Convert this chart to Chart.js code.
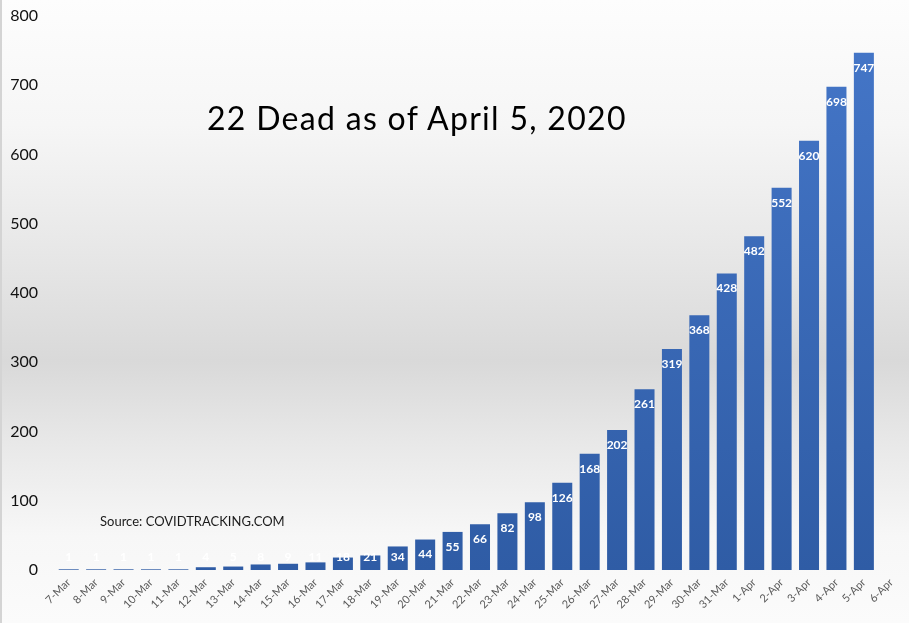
<!DOCTYPE html>
<html>
<head>
<meta charset="utf-8">
<script src="https://cdn.jsdelivr.net/npm/chart.js@4.4.1/dist/chart.umd.min.js"></script>
<style>
    html, body { margin: 0; padding: 0; background: #fff; }
    #wrap { position: relative; width: 909px; height: 623px; }
    #deaths { display: block; }
    .note { position: absolute; white-space: nowrap; color: #000; font-family: Lato, 'Open Sans', sans-serif; }
    #headline { left: 207px; top: 98px; font-size: 32px; line-height: 40px; letter-spacing: 1.3px; }
    #source { left: 100px; top: 512px; font-size: 13px; line-height: 18px; color: #1a1a1a; }
</style>
</head>
<body>
<div id="wrap">
    <canvas id="deaths" width="909" height="623"></canvas>
    <div class="note" id="headline">22 Dead as of April 5, 2020</div>
    <div class="note" id="source">Source: COVIDTRACKING.COM</div>
</div>
<script>
const days = ['7-Mar', '8-Mar', '9-Mar', '10-Mar', '11-Mar', '12-Mar', '13-Mar', '14-Mar', '15-Mar', '16-Mar',
    '17-Mar', '18-Mar', '19-Mar', '20-Mar', '21-Mar', '22-Mar', '23-Mar', '24-Mar', '25-Mar', '26-Mar',
    '27-Mar', '28-Mar', '29-Mar', '30-Mar', '31-Mar', '1-Apr', '2-Apr', '3-Apr', '4-Apr', '5-Apr', '6-Apr'];
const deaths = [1, 1, 1, 1, 1, 4, 5, 8, 9, 11,
    18, 21, 34, 44, 55, 66, 82, 98, 126, 168,
    202, 261, 319, 368, 428, 482, 552, 620, 698, 747, null];
const yMax = 800;
const yStep = 100;

// grey band behind everything, like the Office chart style
const backdrop = {
    id: 'backdrop',
    beforeDraw(chart) {
        const ctx = chart.ctx;
        const h = chart.height;
        const g = ctx.createLinearGradient(0, 0, 0, h);
        g.addColorStop(0, '#fdfdfd');
        g.addColorStop(0.2, '#f6f6f6');
        g.addColorStop(0.42, '#e6e6e6');
        g.addColorStop(0.58, '#d9d9d9');
        g.addColorStop(0.72, '#e9e9e9');
        g.addColorStop(0.86, '#f7f7f7');
        g.addColorStop(1, '#fbfbfb');
        ctx.save();
        ctx.fillStyle = g;
        ctx.fillRect(0, 0, chart.width, h);
        ctx.fillStyle = '#d4d4d4';
        ctx.fillRect(0, 0, 2, h);
        ctx.restore();
    }
};

// white value labels near the top of each bar
const barLabels = {
    id: 'barLabels',
    afterDatasetsDraw(chart) {
        const ctx = chart.ctx;
        const zero = chart.scales.y.getPixelForValue(0);
        ctx.save();
        ctx.fillStyle = '#ffffff';
        ctx.font = 'bold 12px Lato, "Open Sans", sans-serif';
        ctx.textAlign = 'center';
        ctx.textBaseline = 'middle';
        chart.getDatasetMeta(0).data.forEach((bar, i) => {
            const v = deaths[i];
            if (v === null) return;
            const y = Math.min(bar.y + 15, zero - 13);
            ctx.fillText(String(v), bar.x, y);
        });
        ctx.restore();
    }
};

function barFill(context) {
    const area = context.chart.chartArea;
    if (!area) return '#3f6dbd';
    const g = context.chart.ctx.createLinearGradient(0, area.top, 0, area.bottom);
    g.addColorStop(0, '#4577c9');
    g.addColorStop(1, '#2f5ca5');
    return g;
}

new Chart(document.getElementById('deaths'), {
    type: 'bar',
    data: {
        labels: days,
        datasets: [{
            data: deaths,
            backgroundColor: barFill,
            borderWidth: 0,
            barPercentage: 0.73,
            categoryPercentage: 1
        }]
    },
    options: {
        responsive: false,
        animation: false,
        layout: { padding: { top: 16, right: 4, left: 0, bottom: 0 } },
        plugins: {
            legend: { display: false },
            tooltip: { enabled: false }
        },
        scales: {
            y: {
                min: 0,
                max: yMax,
                border: { display: false },
                grid: { display: false, drawTicks: false },
                ticks: {
                    stepSize: yStep,
                    padding: 17,
                    color: '#111',
                    font: { family: 'Lato, "Open Sans", sans-serif', size: 16 }
                },
                afterFit(scale) {
                    scale.width = 55;
                    // tick padding would otherwise push the plot top down
                    scale.paddingTop = 10;
                    scale.paddingBottom = 10;
                }
            },
            x: {
                border: { display: false },
                grid: { display: false, drawTicks: false },
                ticks: {
                    autoSkip: false,
                    minRotation: 45,
                    maxRotation: 45,
                    padding: 6,
                    color: '#595959',
                    font: { family: 'Lato, "Open Sans", sans-serif', size: 11 }
                },
                afterFit(scale) { scale.height = 53; }
            }
        }
    },
    plugins: [backdrop, barLabels]
});
</script>
</body>
</html>
